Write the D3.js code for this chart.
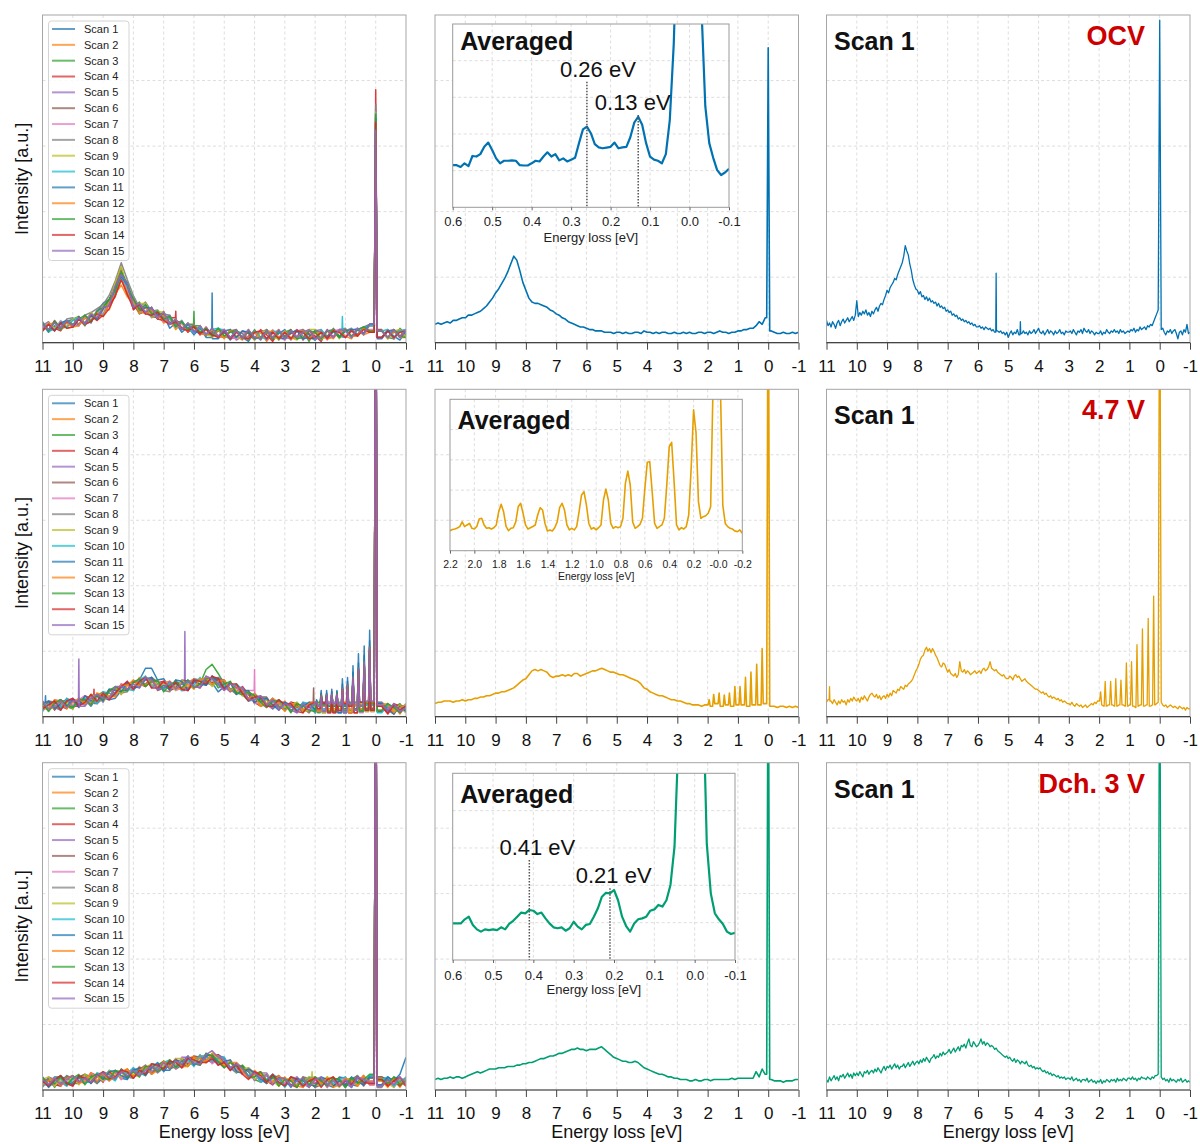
<!DOCTYPE html>
<html>
<head>
<meta charset="utf-8">
<title>Energy-loss spectra</title>
<script src="https://cdn.jsdelivr.net/npm/d3@7"></script>
<style>
  html, body { margin: 0; padding: 0; background: #fff; }
  svg { display: block; }
</style>
</head>
<body>
<svg id="fig" width="1200" height="1144"></svg>
<script>
// ---------------- ticks and labels ----------------
const MAIN_TICKS = [11, 10, 9, 8, 7, 6, 5, 4, 3, 2, 1, 0, -1];
const Y_TICKS = [50, 100, 150, 200];
const ZOOM_TICKS_FINE = [0.6, 0.5, 0.4, 0.3, 0.2, 0.1, 0, -0.1];
const ZOOM_LABELS_FINE = ["0.6", "0.5", "0.4", "0.3", "0.2", "0.1", "0.0", "-0.1"];
const ZOOM_TICKS_WIDE = [2.2, 2.0, 1.8, 1.6, 1.4, 1.2, 1.0, 0.8, 0.6, 0.4, 0.2, 0, -0.2];
const ZOOM_LABELS_WIDE = ["2.2", "2.0", "1.8", "1.6", "1.4", "1.2", "1.0", "0.8", "0.6", "0.4", "0.2", "-0.0", "-0.2"];
const ZOOM_Y_TICKS = [20, 40, 60, 80];

const SCAN_NAMES = ["Scan 1", "Scan 2", "Scan 3", "Scan 4", "Scan 5", "Scan 6", "Scan 7", "Scan 8",
  "Scan 9", "Scan 10", "Scan 11", "Scan 12", "Scan 13", "Scan 14", "Scan 15"];
const SCAN_COLORS = ["#1f77b4", "#ff7f0e", "#2ca02c", "#d62728", "#9467bd", "#8c564b", "#e377c2", "#7f7f7f",
  "#bcbd22", "#17becf", "#1f77b4", "#ff7f0e", "#2ca02c", "#d62728", "#9467bd"];
const STATES = ["OCV", "4.7 V", "Dch. 3 V"];
const STATE_COLORS = ["#0072B2", "#E69F00", "#009E73"];

// energies of the vibrational progression seen after charging to 4.7 V (eV)
const VIB_E = [1.95, 1.80, 1.62, 1.45, 1.28, 1.10, 0.93, 0.75, 0.57, 0.38, 0.20];

// ---------------- OCV ----------------
// single scans, 11 eV -> -1 eV in 0.2 eV steps
const OCV_SCANS = [
  [14,8,13,10,16,18,13,19,15,24, 30,33,43,53,36,31,22,24,20,19, 21,11,15,8,12,6,11,4,9,3, 8,2,9,4,1,8,3,10,2,7, 10,3,5,9,6,2,8,4,10,5, 4,10,6,11,13,12,3,9,5,2, 9],
  [9,14,10,16,11,12,18,13,20,17, 25,25,37,44,35,30,22,27,19,22, 15,18,10,15,8,13,6,11,4,10, 3,10,5,2,9,4,8,1,7,10, 2,8,4,7,10,3,5,9,3,10, 5,3,10,6,8,14,4,10,3,9, 4],
  [15,9,16,11,12,18,20,13,22,19, 27,33,40,51,46,27,31,22,27,18, 23,14,18,10,14,7,13,5,11,4, 10,3,9,7,2,10,4,7,9,2, 8,10,3,9,1,10,7,3,11,5, 10,4,11,7,14,10,9,4,3,11, 6],
  [10,15,11,9,16,12,18,14,21,17, 21,29,35,50,43,25,29,22,26,18, 17,19,11,16,8,12,6,12,5,9, 10,3,4,9,7,2,10,6,1,9, 4,7,10,2,9,5,1,10,4,9, 10,5,6,11,8,13,9,3,10,5, 10],
  [13,16,10,14,17,14,13,21,17,24, 27,28,44,56,41,34,24,29,23,19, 22,21,12,16,10,14,7,6,11,5, 4,10,2,5,10,3,9,2,9,4, 9,2,10,5,3,9,10,3,5,10, 11,4,10,12,9,15,4,9,10,4, 8],
  [14,10,17,11,16,13,20,15,23,18, 26,32,45,57,40,33,26,23,27,19, 24,14,18,11,15,8,13,6,7,11, 4,9,10,3,5,9,2,10,4,9, 5,10,3,10,7,2,9,5,10,8, 4,10,6,11,14,9,10,4,8,10, 4],
  [11,15,10,17,12,18,14,20,16,25, 22,31,37,52,39,32,24,28,21,24, 16,20,12,15,9,14,7,12,5,10, 10,4,3,9,3,8,9,3,10,4, 2,9,5,3,10,7,9,2,9,10, 4,9,11,7,10,15,4,10,3,9, 10],
  [16,10,16,12,18,19,14,21,23,26, 29,36,47,61,48,36,27,31,24,25, 19,21,13,17,10,14,8,11,7,10, 5,3,10,4,9,3,8,10,3,9, 4,3,9,10,3,8,2,9,10,4, 9,11,5,12,14,9,4,10,3,10, 5],
  [9,15,11,16,11,18,19,14,23,19, 28,29,46,58,42,27,30,30,21,24, 23,14,18,10,15,9,13,6,5,10, 4,10,4,3,10,2,8,9,4,3, 9,4,2,8,10,10,3,4,9,3, 10,5,10,6,13,10,9,3,9,10, 4],
  [15,9,10,16,12,17,19,15,16,24, 21,31,37,50,43,27,29,23,20,23, 17,19,12,16,10,8,12,7,10,11, 9,4,9,4,3,9,4,3,9,8, 4,9,3,8,4,2,10,4,8,9, 9,4,10,11,13,10,9,10,4,9, 10],
  [10,14,9,15,17,12,19,14,21,18, 26,29,42,51,44,28,24,27,26,21, 22,15,17,10,14,9,7,11,6,5, 9,10,4,9,8,3,4,9,8,4, 3,8,9,3,4,9,8,4,9,4, 9,10,10,7,14,14,4,9,9,4, 9],
  [9,14,15,10,15,12,13,19,16,23, 20,31,36,48,38,30,24,22,25,19, 21,14,16,11,9,13,7,6,10,5, 4,9,8,4,3,8,3,8,9,4, 8,3,4,9,3,8,8,3,4,9, 9,5,5,11,9,14,9,4,9,4, 4],
  [15,9,16,10,17,14,18,21,16,24, 27,33,39,54,45,33,25,29,22,24, 18,20,12,16,10,13,8,11,5,11, 5,8,9,3,9,4,3,9,3,9, 4,9,3,4,9,8,3,9,9,4, 10,5,10,12,9,14,9,4,10,5, 4],
  [9,14,9,15,11,12,18,14,16,22, 20,26,36,48,37,26,29,22,21,23, 17,14,16,11,9,12,7,10,6,4, 9,3,8,4,3,8,9,3,8,3, 8,3,9,8,3,4,8,3,9,8, 4,9,5,10,8,13,4,9,4,8, 9],
  [14,10,15,11,17,13,19,14,22,19, 27,28,43,52,45,27,30,23,27,19, 23,14,18,10,15,8,13,6,11,5, 10,4,9,3,10,4,3,9,4,10, 3,9,4,8,10,3,4,10,4,10, 9,4,11,6,14,10,9,4,10,4, 10]
];
const OCV_SCAN_ZLP = [170, 175, 168, 193, 178, 172, 180, 182, 176, 175, 171, 169, 174, 168, 162];
const OCV_SCAN_SPIKES = [[[5.4, 38]], [], [[6.0, 24]], [[6.6, 24]], [], [], [], [], [], [[1.1, 20]], [], [], [], [], []];
// average of the scans, 0.1 eV steps
const OCV_AVG = [14,15,14,15,16,15,17,17,18,19, 19,21,21,22,23,24,26,28,31,34, 38,41,45,49,54,60,66,63,55,46,
  40,34,31,30,30,29,28,27,25,24, 22,21,19,18,16,15,14,13,12,12, 11,10,10,9,9,9,8,8,8,7,
  8,8,7,8,7,7,8,8,7,9, 8,8,7,8,7,8,8,7,7,8, 7,7,8,7,8,7,7,8,8,7, 8,8,7,8,9,8,8,7,8,8,
  9,9,10,10,11,11,13,16,14,19, 20,9,8,7,7,8,7,7,8,7, 8];
const OCV_AVG_ZLP = 225;
// first scan, 0.05 eV steps
const OCV_SCAN1 = [17,13,15,12,16,14,11,15,17,13, 16,18,15,17,19,16,18,20,17,21,
  32,20,23,21,24,22,25,21,23,20, 24,22,25,27,24,28,30,29,33,36,
  40,38,42,44,46,49,48,52,55,58, 61,66,74,70,67,60,55,48,44,41,
  40,37,39,35,36,33,35,32,34,31, 32,30,31,28,30,27,28,26,27,24,
  25,23,24,21,22,20,21,18,19,17, 18,16,17,15,16,14,15,13,14,12,
  12,13,11,12,10,12,11,10,11,9, 10,8,9,9,8,9,7,8,6,8,
  4,7,9,6,8,7,10,6,8,7, 9,7,8,6,9,7,8,10,7,9,
  11,8,7,9,6,8,10,7,9,8, 6,9,7,8,10,7,8,6,9,8,
  8,9,7,10,8,6,9,8,10,7, 11,9,8,10,7,9,8,6,8,7,
  7,9,6,8,7,10,8,7,9,8, 10,8,9,7,10,8,9,7,8,9,
  8,10,9,11,8,10,9,12,10,11, 12,10,13,12,14,13,16,19,22,25,
  25,10,11,8,6,9,8,10,7,9, 10,7,3,8,9,6,10,8,14,7, 8];
const OCV_SCAN1_ZLP = 246;
const OCV_SCAN1_SPIKES = [[5.4, 53], [4.6, 16]];
// averaged spectrum near the elastic line, 0.6 -> -0.1 eV in 0.01 eV steps
const OCV_ZOOM = [23,23,22,24,22.5,28,27.7,29,33,35.3, 31.3,26.7,24,25.4,25.4,25.6,25.4,23,22.8,22.8,
  24,25.4,25,27.7,30,27.7,29,25.6,26.7,25, 26,27,35,42.5,44,40.4,34.5,32.7,32.2,32.6,
  33,35.3,32.2,32.7,33,38.2,46.2,49.4,45,35, 27.6,26,25.4,24,29,47.6,89,160,250,300,
  300,300,250,110,55,35,27,20.3,17.6,19, 21];
const OCV_ZOOM_PEAKS = [0.26, 0.13];

// ---------------- 4.7 V ----------------
const CH47_SCANS = [
  [10,7,11,6,11,13,9,13,8,15, 14,13,14,20,20,26,28,37,37,28, 29,22,26,25,28,23,23,27,26,19, 23,20,25,20,14,17,11,14,6,10, 10,5,7,10,4,9,10,5,8,3, 9,3,9,8,6,12,4,8,5,9, 5],
  [10,5,10,13,8,6,14,12,12,18, 12,19,22,17,24,22,30,24,26,27, 21,27,23,21,26,29,22,28,25,29, 26,19,24,18,13,18,13,9,13,5, 12,4,8,9,3,10,6,11,5,4, 8,10,3,9,7,13,4,7,8,2, 9],
  [9,5,11,13,8,6,14,13,10,16, 19,15,18,24,25,20,27,24,30,26, 21,26,25,20,27,27,25,36,40,33, 25,20,25,17,12,17,13,8,14,8, 5,11,9,4,8,10,3,9,11,4, 8,5,10,6,5,13,9,3,7,10, 3],
  [7,11,5,11,13,8,8,16,14,10, 17,18,16,25,21,27,25,23,29,26, 27,20,22,27,20,26,28,24,31,25, 21,26,19,23,17,11,8,13,9,12, 6,11,10,4,8,3,9,10,4,8, 3,9,11,5,11,8,8,3,10,8, 4],
  [11,9,7,5,12,14,10,9,17,16, 11,20,18,22,27,21,24,30,22,25, 26,22,28,20,22,28,27,24,29,30, 23,19,23,22,13,15,16,9,6,11, 11,5,3,11,8,6,10,3,9,10, 4,8,6,11,4,11,10,4,7,3, 8],
  [5,12,11,8,6,13,12,10,17,11, 16,13,22,23,20,28,24,28,29,20, 22,25,21,28,27,23,22,28,26,29, 28,21,18,20,18,10,15,15,8,8, 5,10,8,3,11,5,8,4,10,9, 6,3,10,8,6,13,4,8,2,9, 7],
  [9,6,13,12,7,9,13,16,9,15, 18,14,17,25,24,20,29,29,25,21, 27,24,20,22,27,27,23,31,28,24, 20,26,22,16,20,16,10,7,13,10, 7,11,4,9,10,3,5,8,11,4, 9,6,10,3,9,6,11,8,4,7, 3],
  [6,11,8,5,14,12,8,13,16,10, 14,21,21,18,19,27,27,25,30,26, 20,19,27,25,22,29,28,26,24,30, 27,21,17,21,17,17,8,10,14,7, 10,4,11,6,3,10,8,5,3,11, 10,5,3,9,9,6,11,5,9,4, 7],
  [12,7,6,11,11,6,14,10,17,15, 12,15,23,17,26,25,23,31,24,26, 24,26,20,28,23,22,28,30,23,27, 22,27,20,16,19,15,8,13,8,13, 7,9,11,4,5,8,10,3,9,6, 11,4,8,10,4,11,5,10,5,9, 3],
  [4,10,12,7,14,7,12,14,12,10, 19,18,16,24,21,20,28,31,23,25, 21,26,25,20,26,24,30,24,30,24, 25,20,25,21,12,13,15,9,11,13, 5,8,5,11,10,3,9,6,8,10, 3,9,11,4,9,7,3,9,8,5, 10],
  [10,12,6,10,8,13,7,16,12,16, 12,21,20,19,26,23,22,29,30,21, 24,21,28,27,20,27,25,24,31,27, 22,26,17,20,20,11,14,14,9,5, 11,9,4,8,11,5,4,11,8,3, 9,10,5,11,5,10,10,5,2,8, 4],
  [7,5,13,11,6,11,14,10,10,18, 17,16,15,24,24,28,24,24,28,23, 26,27,22,21,25,21,29,29,25,27, 28,20,23,20,14,17,8,10,14,11, 4,10,8,5,10,11,4,8,6,9, 11,3,9,6,11,6,9,10,3,7, 9],
  [11,4,10,13,9,7,13,13,9,17, 13,20,23,20,20,26,29,23,27,28, 19,24,27,22,28,22,25,29,30,22, 25,27,18,17,19,16,11,7,12,12, 10,3,10,8,5,4,11,9,4,8, 5,11,6,4,10,12,5,10,7,3, 8],
  [6,9,12,5,12,14,8,11,17,12, 18,13,18,23,27,21,27,30,22,22, 27,22,26,21,20,28,27,25,31,29, 21,25,25,18,12,15,15,8,8,13, 9,10,4,3,9,11,6,10,3,5, 10,8,3,11,5,11,8,2,9,5, 8],
  [12,6,8,12,7,12,15,8,14,17, 14,14,23,23,21,25,22,30,28,21, 22,27,21,25,27,23,22,31,29,25, 20,25,22,22,13,13,16,9,13,5, 10,8,3,10,5,11,8,4,10,9, 3,10,5,8,12,6,9,5,10,4, 7]
];
const CH47_SCAN_ZLP = [400, 400, 400, 400, 400, 400, 400, 400, 400, 400, 400, 400, 400, 400, 400];
const CH47_SCAN_SPIKES = [[[10.9, 16]], [], [], [[9.3, 21]], [[6.3, 65]], [[2.05, 22]], [[4.0, 36]], [], [], [], [], [], [], [], [[9.8, 44]]];
const CH47_SCAN_VIB = [
  [13,20,20,21,20,29,30,39,48,54,66], [10,16,16,17,16,21,23,29,35,41,52], [11,17,15,17,18,22,24,31,37,43,54],
  [10,15,16,16,17,20,23,28,34,40,50], [11,16,17,18,17,22,25,30,37,42,53], [10,17,16,17,18,21,24,30,36,41,52],
  [11,16,16,16,17,22,24,29,36,42,53], [10,17,17,17,16,21,23,30,35,41,51], [11,16,16,18,17,22,25,31,37,43,54],
  [10,15,17,17,18,21,24,29,36,42,52], [12,18,18,19,19,25,27,34,41,47,58], [10,16,16,17,17,21,23,29,35,41,52],
  [11,17,17,17,18,22,24,30,36,42,53], [10,16,16,16,17,21,23,29,35,40,51], [11,16,17,17,17,22,24,30,37,42,53]
];
const CH47_AVG = [10,11,11,12,12,12,11,12,12,13, 12,13,13,14,14,15,15,16,16,17, 18,18,19,19,20,21,22,24,26,28,
  29,32,35,36,35,36,35,34,31,30, 31,31,32,31,32,31,33,33,31,32, 33,34,35,35,36,37,36,35,34,34,
  33,32,32,31,30,29,28,27,25,22, 21,19,18,17,16,16,15,14,13,13, 12,12,11,10,10,9,9,9,8,9,
  9,8,9,10,9,8,9,9,8,9, 9,10,9,8,9,9,10,9,10,10, 10,8,8,7,8,8,7,8,7,8, 7];
const CH47_AVG_ZLP = 400;
const CH47_AVG_VIB = [13, 17, 18, 16.5, 18, 23, 23, 30, 34, 40, 52];
const CH47_SCAN1 = [11,13,9,12,10,13,11,9,12,10, 13,11,12,9,13,11,14,12,15,13,
  12,14,11,15,13,16,14,12,15,17, 18,16,15,17,14,16,13,15,16,14,
  17,15,18,16,20,19,18,21,20,23, 22,21,24,23,25,26,27,29,32,35,
  37,40,44,46,47,51,53,50,52,49, 52,50,47,45,42,39,38,41,40,37,
  34,36,33,32,31,33,30,32,42,35, 34,36,33,35,34,32,33,34,35,33,
  34,35,33,36,37,35,36,38,42,37, 36,35,36,34,33,32,31,32,30,29,
  29,31,30,28,31,32,30,31,29,27, 28,29,27,26,25,24,23,22,21,21,
  20,19,18,19,17,18,16,15,16,14, 15,14,13,14,12,13,11,12,11,10,
  10,9,11,9,8,10,9,8,9,7, 8,9,7,8,9,10,9,11,10,12,
  12,10,9,8,9,8,9,7,8,9, 8,7,8,9,8,7,9,8,7,8,
  9,8,9,8,7,9,8,9,8,9, 8,9,10,9,8,9,10,9,10,11,
  12,11,9,8,9,7,8,9,8,7, 8,7,6,8,7,6,7,5,7,6, 6];
const CH47_SCAN1_ZLP = 400;
const CH47_SCAN1_SPIKES = [[10.9, 23]];
const CH47_SCAN1_VIB = [19, 27, 27, 29, 28, 41, 42, 55, 67, 75, 92];
// 2.2 -> -0.2 eV in 0.02 eV steps
const CH47_ZOOM = [13.2,14,14.3,15,15.9,19,15.9,17,18,14.8, 14.3,16,21,21.4,17,14.8,15.2,14.3,15.2,17,
  25.8,30.6,25.8,16,13.2,14.8,15.2,19,29,31.3, 24.7,17,14.3,15.2,16,17,23.6,28.4,26.9,18,
  13,13.7,13,15.2,19,28.4,31.3,26.9,17,13.7, 14.8,13.7,15.9,25.8,36.8,39,30.2,18,14.3,15.2,
  13.7,15.2,17,33.5,40.7,33.5,18,14.8,15.9,15.2, 15.9,21.4,44.5,52.6,43.4,19,14.8,15.9,17.4,21.4,
  41.2,58.4,58.8,39,18,14.8,15.9,17,21.4,43.4, 68.7,71.6,45.6,17,13.7,15.2,14.3,15.9,23.6,54.4,
  93,78,32.4,21.4,22.5,23.1,24.7,29,110,300, 300,110,30,18,15.9,14.8,14.3,13,12.6,13.7, 11.5];
const CH47_ZOOM_PEAKS = [];

// ---------------- discharged to 3 V ----------------
const DCH3_SCANS = [
  [4,9,5,3,11,9,5,9,12,5, 9,15,13,9,8,16,15,13,20,19, 15,15,23,22,20,26,25,23,21,27, 24,17,13,17,14,14,6,8,12,5, 8,3,10,5,2,9,7,4,2,10, 9,4,3,9,9,6,10,5,9,4, 7],
  [8,3,7,11,5,3,11,8,8,13, 7,13,14,8,13,11,18,12,16,20, 16,23,19,18,24,26,19,25,22,26, 23,15,20,14,10,15,11,7,11,3, 10,3,7,8,2,9,5,10,4,3, 7,9,3,9,7,13,3,7,8,2, 9],
  [5,9,2,9,10,5,5,12,10,5, 12,12,8,16,10,16,13,11,19,19, 22,16,18,24,18,23,25,21,28,22, 18,22,15,19,14,8,6,11,7,10, 4,10,9,3,7,2,8,9,3,7, 2,8,11,5,11,8,7,3,10,8, 4],
  [9,7,4,3,9,11,7,5,13,11, 6,14,10,13,16,10,12,18,12,18, 21,18,24,17,20,25,24,21,26,27, 20,15,19,18,10,12,14,7,4,9, 9,4,2,10,7,5,9,2,8,9, 3,7,6,11,4,11,9,4,7,3, 8],
  [3,10,8,6,3,10,9,6,13,6, 11,7,14,14,9,17,12,16,19,13, 17,21,17,25,25,20,19,25,23,26, 25,17,14,16,15,7,13,13,6,6, 3,9,7,2,10,4,7,3,9,8, 5,2,10,8,6,13,3,8,2,9, 7],
  [7,4,10,10,4,6,10,12,5,10, 13,8,9,16,13,9,17,17,15,14, 22,20,16,19,25,24,20,28,25,21, 17,22,18,12,17,13,8,5,11,8, 5,10,3,8,9,2,4,7,10,3, 8,5,10,3,9,6,10,8,4,7, 3],
  [10,5,3,9,8,3,11,6,13,10, 7,9,15,8,15,14,11,19,14,19, 19,22,16,25,21,19,25,27,20,24, 19,23,16,12,16,12,6,11,6,11, 5,8,10,3,4,7,9,2,8,5, 10,3,8,10,4,11,4,10,5,9, 3],
  [2,8,9,5,11,4,9,10,8,5, 14,12,8,15,10,9,16,19,13,18, 16,22,21,17,24,21,27,21,27,21, 22,16,21,17,9,10,13,7,9,11, 3,7,4,10,9,2,8,5,7,9, 2,8,11,4,9,7,2,9,8,5, 10],
  [8,10,3,8,5,10,4,12,8,11, 7,15,12,10,15,12,10,17,20,14, 19,17,24,24,18,24,22,21,28,24, 19,22,13,16,17,8,12,12,7,3, 9,8,3,7,10,4,3,10,7,2, 8,9,5,11,5,10,9,5,2,8, 4],
  [5,3,10,9,3,8,11,6,6,13, 12,10,7,15,13,17,12,12,18,16, 21,23,18,18,23,18,26,26,22,24, 25,16,19,16,11,14,6,8,12,9, 2,9,7,4,9,10,3,7,5,8, 10,2,9,6,11,6,8,10,3,7, 9],
  [9,2,7,11,6,4,10,9,5,12, 8,14,15,11,9,15,17,11,17,21, 14,20,23,19,26,19,22,26,27,19, 22,23,14,13,16,13,9,5,10,10, 8,2,9,7,4,3,10,8,3,7, 4,10,6,4,10,12,4,10,7,12, 25],
  [4,7,9,3,9,11,5,7,13,7, 13,7,10,14,16,10,15,18,12,15, 22,18,22,18,18,25,24,22,28,26, 18,21,21,14,9,12,13,6,6,11, 7,9,3,2,8,10,5,9,2,4, 9,7,3,11,5,11,7,2,9,5, 8],
  [10,4,5,10,4,9,12,4,10,12, 9,8,15,14,10,14,10,18,18,14, 17,23,17,22,25,20,19,28,26,22, 17,21,18,18,10,10,14,7,11,3, 8,7,2,9,4,10,7,3,9,8, 2,9,5,8,12,6,8,5,10,4, 7],
  [7,3,8,11,5,3,11,9,6,11, 14,9,10,15,14,9,15,12,20,19, 16,22,21,17,24,23,21,21,24,19, 21,15,20,12,8,14,11,6,12,6, 3,10,8,3,7,9,2,8,10,3, 7,4,10,6,5,13,8,3,7,10, 3],
  [8,4,9,4,8,11,6,9,6,11, 13,10,9,14,11,15,11,15,18,15, 21,16,22,20,26,20,20,27,30,25, 23,17,20,16,10,13,9,12,4,9, 9,3,7,9,2,8,10,4,7,3, 8,2,10,8,6,12,3,8,4,10, 5]
];
const DCH3_SCAN_ZLP = [400, 400, 400, 400, 400, 400, 400, 400, 400, 400, 400, 400, 400, 400, 400];
const DCH3_SCAN_SPIKES = [[], [], [], [], [], [], [], [], [[2.1, 14]], [], [], [], [], [], []];
const DCH3_AVG = [8,9,8,9,9,10,9,10,10,9, 10,11,12,13,14,13,14,15,16,16, 16,17,17,17,18,18,18,19,19,20,
  20,21,21,22,23,24,24,25,26,26, 27,28,28,29,30,31,31,32,31,31, 30,31,31,31,32,33,31,29,27,25,
  24,23,22,22,21,21,22,21,19,17, 16,15,14,13,12,12,11,10,10,9, 9,8,8,8,7,7,8,7,7,8,
  8,7,8,8,8,8,8,8,9,8, 9,9,9,9,9,9,14,10,16,12, 12,8,7,7,7,6,7,7,7,8, 8];
const DCH3_AVG_ZLP = 400;
const DCH3_SCAN1 = [8,6,10,7,9,11,8,10,7,11, 10,12,9,11,13,10,12,9,13,11,
  13,11,14,12,10,14,13,15,12,14, 15,13,16,14,17,15,13,16,18,15,
  18,17,19,16,18,20,17,19,16,18, 18,20,17,19,21,18,20,22,19,21,
  22,20,23,21,24,22,25,23,21,24, 25,27,24,26,25,28,26,29,27,28,
  29,31,28,30,32,29,31,33,30,34, 33,35,32,36,39,34,33,37,35,33,
  34,36,39,35,37,34,36,35,33,34, 33,31,32,30,29,28,27,26,25,26,
  24,25,23,22,24,21,23,22,20,22, 21,20,22,19,18,19,17,18,16,17,
  16,17,15,14,15,13,14,12,13,11, 12,11,10,11,9,10,9,10,8,9,
  9,8,10,7,8,9,7,8,6,8, 8,7,9,6,7,8,6,7,5,7,
  6,8,5,7,6,8,7,6,8,7, 8,6,9,7,8,7,9,8,7,9,
  9,8,10,8,9,7,9,8,10,9, 9,8,10,9,8,10,9,11,11,12,
  12,10,8,9,7,8,6,9,7,8, 7,6,8,7,9,6,7,8,6,7, 6];
const DCH3_SCAN1_ZLP = 400;
const DCH3_SCAN1_SPIKES = [];
const DCH3_ZOOM = [19.6,19.6,19.6,21.8,23.2,18.8,16.4,15.2,16.4,16, 16.4,16,17.5,16.4,19.3,21,23.2,25.4,25,26.8,
  26.4,24.6,25.4,22.3,19.6,17.5,17,17.5,15.7,17, 20.5,17.9,16.4,18.8,19.3,23.2,27.7,33.9,36,35.7,
  37.5,32,23.2,18.2,15.2,19.6,21.8,22.3,23.2,26.4, 27.1,29.5,28.6,32,40.2,60.7,120,250,300,300,
  300,300,150,62.5,35.7,25,21.8,19.3,15.2,13.9, 14.6];
const DCH3_ZOOM_PEAKS = [0.41, 0.21];

// ---------------- figure ----------------
const FONT = "'Liberation Sans', Arial, Helvetica, sans-serif";
const GRID = "#d6d6d6";
const COLS = [{ x0: 42.5, x1: 406 }, { x0: 435, x1: 798.5 }, { x0: 826.5, x1: 1190 }];
const ROWS = [{ y0: 15, y1: 342.7 }, { y0: 389.3, y1: 716.7 }, { y0: 762.7, y1: 1090 }];
const HW_ZLP = 0.05, HW_VIB = 0.035, HW_SPIKE = 0.012;

const ROW_SETS = [
  { scans: OCV_SCANS, scanZlp: OCV_SCAN_ZLP, scanSpikes: OCV_SCAN_SPIKES, scanVib: null,
    avg: OCV_AVG, avgZlp: OCV_AVG_ZLP, avgVib: null,
    scan1: OCV_SCAN1, scan1Zlp: OCV_SCAN1_ZLP, scan1Spikes: OCV_SCAN1_SPIKES, scan1Vib: null,
    zoom: OCV_ZOOM, zoomStart: 0.6, zoomStep: 0.01, zoomTicks: ZOOM_TICKS_FINE, zoomLabels: ZOOM_LABELS_FINE,
    marks: OCV_ZOOM_PEAKS },
  { scans: CH47_SCANS, scanZlp: CH47_SCAN_ZLP, scanSpikes: CH47_SCAN_SPIKES, scanVib: CH47_SCAN_VIB,
    avg: CH47_AVG, avgZlp: CH47_AVG_ZLP, avgVib: CH47_AVG_VIB,
    scan1: CH47_SCAN1, scan1Zlp: CH47_SCAN1_ZLP, scan1Spikes: CH47_SCAN1_SPIKES, scan1Vib: CH47_SCAN1_VIB,
    zoom: CH47_ZOOM, zoomStart: 2.2, zoomStep: 0.02, zoomTicks: ZOOM_TICKS_WIDE, zoomLabels: ZOOM_LABELS_WIDE,
    marks: CH47_ZOOM_PEAKS },
  { scans: DCH3_SCANS, scanZlp: DCH3_SCAN_ZLP, scanSpikes: DCH3_SCAN_SPIKES, scanVib: null,
    avg: DCH3_AVG, avgZlp: DCH3_AVG_ZLP, avgVib: null,
    scan1: DCH3_SCAN1, scan1Zlp: DCH3_SCAN1_ZLP, scan1Spikes: DCH3_SCAN1_SPIKES, scan1Vib: null,
    zoom: DCH3_ZOOM, zoomStart: 0.6, zoomStep: 0.01, zoomTicks: ZOOM_TICKS_FINE, zoomLabels: ZOOM_LABELS_FINE,
    marks: DCH3_ZOOM_PEAKS }
];

// placement of the zoomed-in panels and their annotations
const INSET_LAYOUT = [
  { x: 452.7, y: 24, w: 276.3, h: 183.3, font: 13, lw: 2.2, pad: 6, titleDy: 35, avgDy: 26,
    marks: [{ dx: 11, base: 52.7 }, { dx: -5.5, base: 86 }] },
  { x: 450, y: 399.3, w: 292.3, h: 151.4, font: 10.5, lw: 1.6, pad: 7, titleDy: 29.5, avgDy: 29.7, marks: [] },
  { x: 452.7, y: 773.3, w: 282.3, h: 186.7, font: 13, lw: 2.2, pad: 7.3, titleDy: 34, avgDy: 30,
    marks: [{ dx: 8, base: 81.7 }, { dx: 3.7, base: 110 }] }
];

const svg = d3.select("#fig").attr("font-family", FONT);
const defs = svg.append("defs");
svg.append("rect").attr("width", 1200).attr("height", 1144).attr("fill", "#fff");

function grid(start, step, n) {
  return d3.range(n).map(i => +(start - step * i).toFixed(3));
}

// stored samples plus narrow features (elastic line, vibrational lines, spikes)
function spectrum(start, step, values, peaks) {
  let pts = grid(start, step, values.length).map((e, i) => ({ e, v: values[i] }));
  peaks.forEach(([e0, h, hw]) => {
    const hi = pts.filter(p => p.e >= e0 + hw - 1e-6);
    const lo = pts.filter(p => p.e <= e0 - hw + 1e-6);
    const a = hi[hi.length - 1], b = lo[0];
    const mid = [];
    if (a && a.e - (e0 + hw) > 1e-6) mid.push({ e: e0 + hw, v: a.v });
    mid.push({ e: e0, v: h });
    if (b && (e0 - hw) - b.e > 1e-6) mid.push({ e: e0 - hw, v: b.v });
    pts = hi.concat(mid, lo);
  });
  return pts;
}

function peakList(zlp, spikes, vib) {
  const list = [[0, zlp, HW_ZLP]];
  (spikes || []).forEach(([e, h]) => list.push([e, h, HW_SPIKE]));
  (vib || []).forEach((h, j) => list.push([VIB_E[j], h, HW_VIB]));
  return list;
}

function panel(r, c) {
  const row = ROWS[r], col = COLS[c];
  const x = d3.scaleLinear().domain([MAIN_TICKS[0], MAIN_TICKS[MAIN_TICKS.length - 1]]).range([col.x0, col.x1]);
  const y = d3.scaleLinear().domain([0, 250]).range([row.y1, row.y0]);
  const g = svg.append("g");
  g.append("g").selectAll("line").data(MAIN_TICKS.slice(1, -1)).join("line")
    .attr("x1", d => x(d)).attr("x2", d => x(d)).attr("y1", row.y0).attr("y2", row.y1)
    .attr("stroke", GRID).attr("stroke-width", 0.8).attr("stroke-dasharray", "3,2.5");
  g.append("g").selectAll("line").data(Y_TICKS).join("line")
    .attr("x1", col.x0).attr("x2", col.x1).attr("y1", d => y(d)).attr("y2", d => y(d))
    .attr("stroke", GRID).attr("stroke-width", 0.8).attr("stroke-dasharray", "3,2.5");
  const id = `clip-${r}-${c}`;
  defs.append("clipPath").attr("id", id).append("rect")
    .attr("x", col.x0).attr("y", row.y0).attr("width", col.x1 - col.x0).attr("height", row.y1 - row.y0);
  const plot = g.append("g").attr("clip-path", `url(#${id})`);
  const line = d3.line().x(p => x(p.e)).y(p => y(p.v)).curve(d3.curveLinear);
  return { g, plot, x, y, row, col, line };
}

function finish(p, withXLabel) {
  const { g, x, row, col } = p;
  g.append("rect").attr("x", col.x0).attr("y", row.y0).attr("width", col.x1 - col.x0).attr("height", row.y1 - row.y0)
    .attr("fill", "none").attr("stroke", "#a6a6a6").attr("stroke-width", 1);
  g.append("line").attr("x1", col.x0).attr("x2", col.x1).attr("y1", row.y1).attr("y2", row.y1)
    .attr("stroke", "#444").attr("stroke-width", 1.2);
  const ax = g.append("g").attr("transform", `translate(0,${row.y1})`)
    .call(d3.axisBottom(x).tickValues(MAIN_TICKS).tickSize(7).tickPadding(10).tickFormat(d => String(d)));
  ax.select(".domain").remove();
  ax.attr("font-family", FONT).attr("font-size", 17);
  ax.selectAll("line").attr("stroke", "#444");
  ax.selectAll("text").attr("fill", "#111");
  if (withXLabel) {
    g.append("text").attr("x", (col.x0 + col.x1) / 2).attr("y", row.y1 + 48).attr("text-anchor", "middle")
      .attr("font-size", 18).attr("fill", "#111").text("Energy loss [eV]");
  }
}

function inset(g, r, set, color) {
  const L = INSET_LAYOUT[r];
  const t = set.zoomTicks;
  const xi = d3.scaleLinear().domain([t[0], t[t.length - 1]]).range([L.x, L.x + L.w]);
  const yi = d3.scaleLinear().domain([0, 100]).range([L.y + L.h, L.y]);
  const ig = g.append("g");
  ig.append("rect").attr("x", L.x).attr("y", L.y).attr("width", L.w).attr("height", L.h).attr("fill", "#fff");
  ig.append("g").selectAll("line").data(t.slice(1, -1)).join("line")
    .attr("x1", d => xi(d)).attr("x2", d => xi(d)).attr("y1", L.y).attr("y2", L.y + L.h)
    .attr("stroke", GRID).attr("stroke-width", 0.8).attr("stroke-dasharray", "3,2.5");
  ig.append("g").selectAll("line").data(ZOOM_Y_TICKS).join("line")
    .attr("x1", L.x).attr("x2", L.x + L.w).attr("y1", d => yi(d)).attr("y2", d => yi(d))
    .attr("stroke", GRID).attr("stroke-width", 0.8).attr("stroke-dasharray", "3,2.5");
  const id = `clip-inset-${r}`;
  defs.append("clipPath").attr("id", id).append("rect").attr("x", L.x).attr("y", L.y).attr("width", L.w).attr("height", L.h);
  const pts = grid(set.zoomStart, set.zoomStep, set.zoom.length).map((e, i) => ({ e, v: set.zoom[i] }));
  ig.append("g").attr("clip-path", `url(#${id})`).append("path").datum(pts)
    .attr("d", d3.line().x(p => xi(p.e)).y(p => yi(p.v)))
    .attr("fill", "none").attr("stroke", color).attr("stroke-width", L.lw).attr("stroke-linejoin", "round");
  // marked peaks
  set.marks.forEach((e, k) => {
    const m = L.marks[k];
    ig.append("line").attr("x1", xi(e)).attr("x2", xi(e)).attr("y1", L.y + m.base + 5).attr("y2", L.y + L.h)
      .attr("stroke", "#555").attr("stroke-width", 1.5).attr("stroke-dasharray", "1.5,1.5");
    ig.append("text").attr("x", xi(e) + m.dx).attr("y", L.y + m.base).attr("text-anchor", "middle")
      .attr("font-size", 22).attr("fill", "#111").text(`${e.toFixed(2)} eV`);
  });
  ig.append("rect").attr("x", L.x).attr("y", L.y).attr("width", L.w).attr("height", L.h)
    .attr("fill", "none").attr("stroke", "#9a9a9a").attr("stroke-width", 1);
  const ax = ig.append("g").attr("transform", `translate(0,${L.y + L.h})`)
    .call(d3.axisBottom(xi).tickValues(t).tickSize(3).tickPadding(L.pad).tickFormat((d, i) => set.zoomLabels[i]));
  ax.select(".domain").remove();
  ax.attr("font-family", FONT).attr("font-size", L.font);
  ax.selectAll("line").attr("stroke", "#666");
  ax.selectAll("text").attr("fill", "#222");
  ig.append("text").attr("x", L.x + L.w / 2).attr("y", L.y + L.h + L.titleDy).attr("text-anchor", "middle")
    .attr("font-size", L.font).attr("fill", "#222").text("Energy loss [eV]");
  ig.append("text").attr("x", L.x + 7.5).attr("y", L.y + L.avgDy).attr("font-size", 25).attr("font-weight", "bold")
    .attr("fill", "#111").text("Averaged");
}

ROW_SETS.forEach((set, r) => {
  const color = STATE_COLORS[r];
  const last = r === ROW_SETS.length - 1;

  // left: all scans
  const pl = panel(r, 0);
  set.scans.forEach((vals, k) => {
    const pk = peakList(set.scanZlp[k], set.scanSpikes[k], set.scanVib ? set.scanVib[k] : null);
    pl.plot.append("path").datum(spectrum(11, 0.2, vals, pk)).attr("d", pl.line)
      .attr("fill", "none").attr("stroke", SCAN_COLORS[k]).attr("stroke-width", 1.5)
      .attr("stroke-opacity", 0.9).attr("stroke-linejoin", "round");
  });
  const lg = pl.g.append("g");
  const lx = pl.col.x0, ly = pl.row.y0;
  lg.append("rect").attr("x", lx + 6).attr("y", ly + 6).attr("width", 80.5).attr("height", 239.5).attr("rx", 3)
    .attr("fill", "#fff").attr("fill-opacity", 0.85).attr("stroke", "#d4d4d4").attr("stroke-width", 1);
  SCAN_NAMES.forEach((name, k) => {
    const yy = ly + 14 + k * 15.84;
    lg.append("line").attr("x1", lx + 9.5).attr("x2", lx + 32.5).attr("y1", yy).attr("y2", yy)
      .attr("stroke", SCAN_COLORS[k]).attr("stroke-width", 2).attr("stroke-opacity", 0.7);
    lg.append("text").attr("x", lx + 41.5).attr("y", yy).attr("dy", "0.36em").attr("font-size", 11)
      .attr("fill", "#222").text(name);
  });
  pl.g.append("text").attr("transform", `translate(28,${(pl.row.y0 + pl.row.y1) / 2}) rotate(-90)`)
    .attr("text-anchor", "middle").attr("font-size", 18).attr("fill", "#111").text("Intensity [a.u.]");
  finish(pl, last);

  // middle: averaged spectrum with zoomed view
  const pm = panel(r, 1);
  pm.plot.append("path").datum(spectrum(11, 0.1, set.avg, peakList(set.avgZlp, [], set.avgVib))).attr("d", pm.line)
    .attr("fill", "none").attr("stroke", color).attr("stroke-width", 1.6).attr("stroke-linejoin", "round");
  inset(pm.g, r, set, color);
  finish(pm, last);

  // right: first scan
  const pr = panel(r, 2);
  pr.plot.append("path").datum(spectrum(11, 0.05, set.scan1, peakList(set.scan1Zlp, set.scan1Spikes, set.scan1Vib)))
    .attr("d", pr.line).attr("fill", "none").attr("stroke", color).attr("stroke-width", 1.3).attr("stroke-linejoin", "round");
  pr.g.append("text").attr("x", pr.col.x0 + 7.5).attr("y", pr.row.y0 + 35).attr("font-size", 25)
    .attr("font-weight", "bold").attr("fill", "#111").text("Scan 1");
  pr.g.append("text").attr("x", pr.col.x1 - 45).attr("y", pr.row.y0 + 30).attr("text-anchor", "end")
    .attr("font-size", 27).attr("font-weight", "bold").attr("fill", "#cc0000").text(STATES[r]);
  finish(pr, last);
});
</script>
</body>
</html>
